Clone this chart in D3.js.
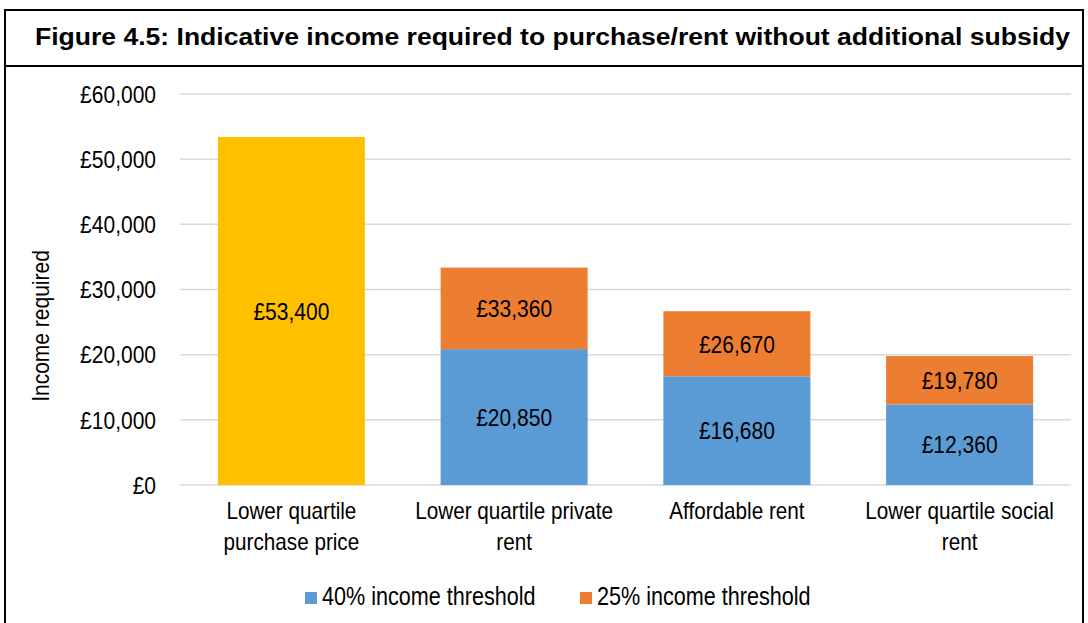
<!DOCTYPE html>
<html>
<head>
<meta charset="utf-8">
<script src="https://cdn.jsdelivr.net/npm/d3@7"></script>
<style>
  html, body { margin: 0; padding: 0; background: #fff; }
  svg text { font-family: "Liberation Sans", Arial, sans-serif; fill: #000; }
</style>
</head>
<body>
<svg id="chart" width="1088" height="623"></svg>
<script>
// Categories and values (income in £)
const categories = [
  ["Lower quartile", "purchase price"],
  ["Lower quartile private", "rent"],
  ["Affordable rent"],
  ["Lower quartile social", "rent"]
];
const purchaseIncome = [53400, null, null, null];
const threshold40 = [null, 20850, 16680, 12360];
const threshold25 = [null, 33360, 26670, 19780];
const yTicks = [0, 10000, 20000, 30000, 40000, 50000, 60000];
const seriesNames = ["40% income threshold", "25% income threshold"];
const titleText = "Figure 4.5: Indicative income required to purchase/rent without additional subsidy";

const colors = { purchase: "#FFC000", blue: "#5B9BD5", orange: "#ED7D31", grid: "#D9D9D9" };
const TALL = 1.16;   // body text is drawn slightly tall
const FS = 21;

const svg = d3.select("#chart");

// Text helper: places a label at (x, y) with a vertical stretch
function label(parent, x, y, txt, opts = {}) {
  const g = parent.append("g")
    .attr("transform", `translate(${x},${y}) ${opts.rotate ? "rotate(" + opts.rotate + ")" : ""} scale(1,${TALL})`);
  return g.append("text")
    .attr("text-anchor", opts.anchor || "middle")
    .attr("dy", opts.dy || 0)
    .attr("font-size", opts.size || FS)
    .text(txt);
}

// Frame and title band
svg.append("rect").attr("x", 5).attr("y", 10).attr("width", 1078).attr("height", 640)
  .attr("fill", "none").attr("stroke", "#000").attr("stroke-width", 2);
svg.append("line").attr("x1", 5).attr("x2", 1083).attr("y1", 66).attr("y2", 66)
  .attr("stroke", "#000").attr("stroke-width", 2);
svg.append("text").attr("x", 35).attr("y", 45)
  .attr("font-size", 23.5).attr("font-weight", "bold")
  .attr("textLength", 1035).attr("lengthAdjust", "spacingAndGlyphs")
  .text(titleText);

const margin = { left: 180, right: 1071, top: 94, bottom: 485 };
const x = d3.scaleBand().domain(d3.range(categories.length))
  .range([margin.left, margin.right]).paddingInner(0.34).paddingOuter(0.17);
const y = d3.scaleLinear().domain([0, 60000]).range([margin.bottom, margin.top]);

// Gridlines
svg.append("g").selectAll("line").data(yTicks).join("line")
  .attr("x1", margin.left).attr("x2", margin.right)
  .attr("y1", d => y(d)).attr("y2", d => y(d))
  .attr("stroke", colors.grid).attr("stroke-width", 1.5);

// Y axis tick labels
const fmt = d => "£" + d3.format(",")(d);
const gy = svg.append("g");
yTicks.forEach(t => label(gy, 156, y(t), fmt(t), { anchor: "end", dy: "0.36em" }));

label(svg, 49, 326, "Income required", { rotate: -90 });

// Bars
const g = svg.append("g");
const bw = x.bandwidth();
purchaseIncome.forEach((v, i) => {
  if (v == null) return;
  g.append("rect").attr("x", x(i)).attr("width", bw)
    .attr("y", y(v)).attr("height", y(0) - y(v)).attr("fill", colors.purchase);
  label(g, x(i) + bw / 2, (y(v) + y(0)) / 2, fmt(v), { dy: "0.36em" });
});
threshold40.forEach((v, i) => {
  if (v == null) return;
  const top = threshold25[i];
  g.append("rect").attr("x", x(i)).attr("width", bw)
    .attr("y", y(v)).attr("height", y(0) - y(v)).attr("fill", colors.blue);
  g.append("rect").attr("x", x(i)).attr("width", bw)
    .attr("y", y(top)).attr("height", y(v) - y(top)).attr("fill", colors.orange);
  label(g, x(i) + bw / 2, (y(v) + y(0)) / 2, fmt(v), { dy: "0.36em" });
  label(g, x(i) + bw / 2, (y(top) + y(v)) / 2, fmt(top), { dy: "0.36em" });
});

// Category labels
categories.forEach((lines, i) => {
  lines.forEach((ln, j) => label(svg, x(i) + bw / 2, 519 + j * 31, ln, { size: 20.7 }));
});

// Legend
const legend = [
  { name: seriesNames[0], color: colors.blue, x: 305 },
  { name: seriesNames[1], color: colors.orange, x: 580 }
];
legend.forEach(l => {
  svg.append("rect").attr("x", l.x).attr("y", 592).attr("width", 12).attr("height", 12).attr("fill", l.color);
  label(svg, l.x + 17, 605, l.name, { anchor: "start", size: 21.6 });
});
</script>
</body>
</html>
